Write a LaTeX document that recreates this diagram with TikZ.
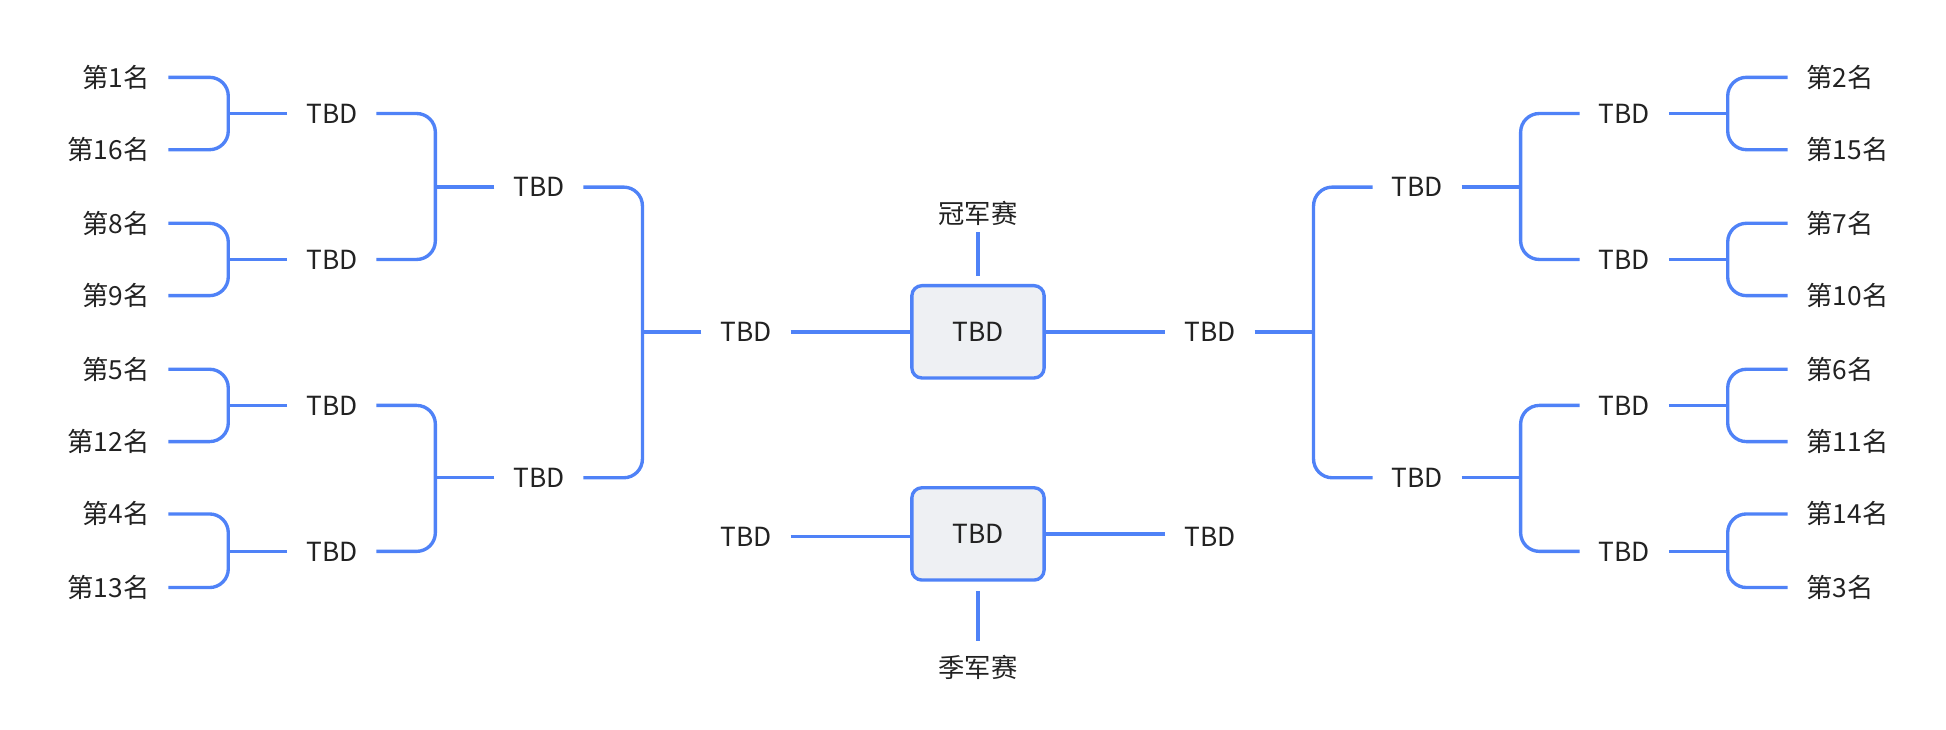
\documentclass[tikz,border=0pt]{standalone}
\usepackage{fontspec}
\setmainfont{Noto Sans CJK SC}
\definecolor{bl}{HTML}{4F82F7}
\definecolor{bx}{HTML}{EEF0F3}
\definecolor{tx}{HTML}{222222}
\begin{document}
\begin{tikzpicture}[x=0.03cm,y=-0.03cm,
  t/.style={inner xsep=0.45cm,inner ysep=2pt,text=tx,font=\fontsize{18}{21}\selectfont},
  tb/.style={t,inner xsep=0pt,minimum width=2.13cm},
  br/.style={draw=bl,line width=2.3pt,rounded corners=0.45cm},
  ln/.style={draw=bl,line width=2.3pt},
  box/.style={draw=bl,line width=2.3pt,fill=bx,rounded corners=0.24cm,inner sep=0pt,minimum width=3.18cm,minimum height=2.22cm,text=tx,font=\fontsize{18}{21}\selectfont}]
\useasboundingbox (0,0) rectangle (1560,585);
\foreach \n/\lab/\y in {1/第1名/62,2/第16名/120,3/第8名/179,4/第9名/237,5/第5名/296,6/第12名/354,7/第4名/412,8/第13名/471}{
  \node[t,anchor=east] (L\n) at (135,\y) {\lab};}
\foreach \n/\lab/\y in {1/第2名/62,2/第15名/120,3/第7名/179,4/第10名/237,5/第6名/296,6/第11名/354,7/第14名/412,8/第3名/471}{
  \node[t,anchor=west] (R\n) at (1433,\y) {\lab};}
\foreach \n/\y in {1/91,2/208,3/325,4/442}{
  \node[tb] (LA\n) at (266,\y) {TBD};
  \node[tb] (RA\n) at (1302,\y) {TBD};}
\foreach \n/\y in {1/150,2/383}{
  \node[tb] (LB\n) at (432,\y) {TBD};
  \node[tb] (RB\n) at (1136,\y) {TBD};}
\node[tb] (LC) at (598,266) {TBD};
\node[tb] (RC) at (970,266) {TBD};
\node[box] (F) at (784,266) {TBD};
\node[t] (FT) at (784,171) {冠军赛};
\node[box] (S) at (784,428) {TBD};
\node[tb] (SL) at (598,430) {TBD};
\node[tb] (SR) at (970,430) {TBD};
\node[t] (ST) at (784,535) {季军赛};
\foreach \a/\b/\c in {1/2/1,3/4/2,5/6/3,7/8/4}{
  \path[br] (L\a.east) -| (183,0 |- LA\c) |- (L\b.east);
  \path[ln] (LA\c.west) -- (LA\c.west -| 183,0);
  \path[br] (R\a.west) -| (1385,0 |- RA\c) |- (R\b.west);
  \path[ln] (RA\c.east) -- (RA\c.east -| 1385,0);}
\foreach \a/\b/\c in {1/2/1,3/4/2}{
  \path[br] (LA\a.east) -| (349,0 |- LB\c) |- (LA\b.east);
  \path[ln] (LB\c.west) -- (LB\c.west -| 349,0);
  \path[br] (RA\a.west) -| (1219,0 |- RB\c) |- (RA\b.west);
  \path[ln] (RB\c.east) -- (RB\c.east -| 1219,0);}
\path[br] (LB1.east) -| (515,266) |- (LB2.east);
\path[ln] (LC.west) -- (LC.west -| 515,0);
\path[br] (RB1.west) -| (1053,266) |- (RB2.west);
\path[ln] (RC.east) -- (RC.east -| 1053,0);
\path[ln] (LC.east) -- (F.west);
\path[ln] (F.east) -- (RC.west);
\path[ln] (SL.east) -- (SL.east -| S.west);
\path[ln] (S.east) -- (S.east -| SR.west);
\path[ln] (784,186) coordinate (fa) -- (784,221) coordinate (fb);
\path[ln] (784,474) coordinate (sa) -- (784,514) coordinate (sb);
\end{tikzpicture}
\end{document}
